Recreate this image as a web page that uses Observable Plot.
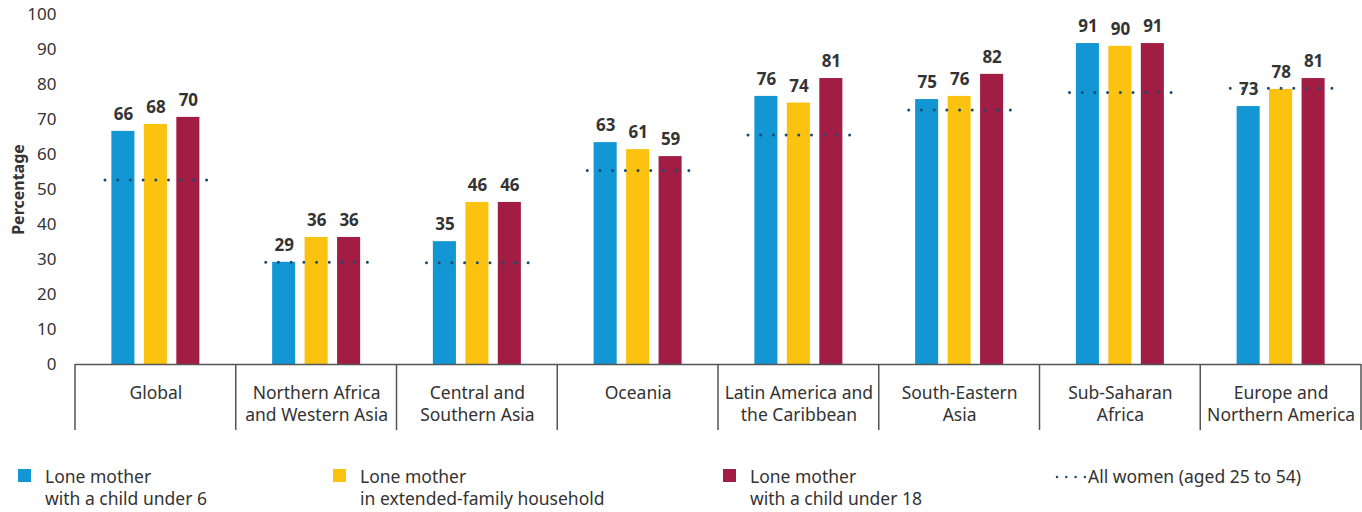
<!DOCTYPE html>
<html><head><meta charset="utf-8">
<script src="https://cdn.jsdelivr.net/npm/d3@7"></script>
<script src="https://cdn.jsdelivr.net/npm/@observablehq/plot@0.6"></script>
<style>
body{margin:0;background:#fff;font-family:"Noto Sans",sans-serif;}
#wrap{position:relative;width:1362px;height:512px;overflow:hidden;}
.leg{position:absolute;top:465px;font-size:17.5px;line-height:22px;color:#333;white-space:nowrap;}
.sw{position:absolute;width:13px;height:13px;top:4px;}
</style></head><body>
<div id="wrap"><div id="chart"></div><div id="legend"></div></div>
<script>
const regions = ["Global","Northern Africa\nand Western Asia","Central and\nSouthern Asia","Oceania","Latin America and\nthe Caribbean","South-Eastern\nAsia","Sub-Saharan\nAfrica","Europe and\nNorthern America"];
const seriesNames = ["Lone mother\nwith a child under 6","Lone mother\nin extended-family household","Lone mother\nwith a child under 18"];
const under6   = [66.6, 29.2, 35.1, 63.4, 76.6, 75.7, 91.7, 73.7];
const extended = [68.6, 36.3, 46.3, 61.4, 74.7, 76.6, 90.9, 78.6];
const under18  = [70.6, 36.3, 46.3, 59.4, 81.7, 82.9, 91.7, 81.7];
const allWomen = [52.7, 29.2, 29.1, 55.4, 65.6, 72.7, 77.7, 78.9];
const allWomenLabel = "All women (aged 25 to 54)";
const yTicks = [0,10,20,30,40,50,60,70,80,90,100];
const colors = ["#1396d4","#fbc30f","#a11d43"];
const dotColor = "#1c4a70";
const FONT = '"Noto Sans",sans-serif';

const bars = [];
regions.forEach((r,i)=>{
  [under6, extended, under18].forEach((arr,j)=>bars.push({region:r, series:seriesNames[j], value:arr[i]}));
});
const refs = regions.map((r,i)=>({region:r, value:allWomen[i]}));

const plot = Plot.plot({
  width:1362, height:440,
  marginLeft:75, marginRight:1, marginTop:14, marginBottom:76,
  style:{fontFamily:FONT, fontSize:"16px", color:"#333", background:"#fff"},
  fx:{domain:regions, padding:0, axis:null, round:false},
  x:{domain:seriesNames, paddingInner:0.29, paddingOuter:1.12, axis:null, round:false},
  y:{domain:[0,100], ticks:yTicks, label:"Percentage"},
  color:{domain:seriesNames, range:colors},
  marks:[
    Plot.axisY({ticks:yTicks, tickSize:0, tickPadding:19, fontSize:17, label:"Percentage", labelAnchor:"center", labelArrow:"none", labelOffset:63}),
    Plot.barY(bars,{fx:"region", x:"series", y:"value", fill:"series"}),
    Plot.text(bars,{fx:"region", x:"series", y:"value", text:d=>String(Math.floor(d.value)), dy:-17, lineAnchor:"middle", fontWeight:"bold", fontSize:17, fill:"#333", stroke:"white", strokeWidth:4, paintOrder:"stroke"}),
    Plot.ruleY(refs,{fx:"region", y:"value", insetLeft:30, insetRight:28.5, stroke:dotColor, strokeWidth:3, strokeDasharray:"0 12.7", strokeLinecap:"round"}),
    Plot.ruleY([0],{stroke:"#555", strokeWidth:1.5}),
    Plot.text(regions,{fx:d=>d, text:d=>d, frameAnchor:"bottom", dy:19, lineAnchor:"top", lineHeight:1.26, fontSize:17.5, fill:"#333"})
  ]
});
document.getElementById("chart").appendChild(plot);
const svg = d3.select(plot);
svg.selectAll("[aria-label='y-axis label']").attr("font-weight","bold").attr("font-size",16);
const fx = plot.scale("fx");
const y0 = 364, y1 = 430;
const edges = regions.map(r=>fx.apply(r)).concat([fx.apply(regions[regions.length-1])+fx.bandwidth]);
svg.append("g").selectAll("line").data(edges).join("line")
  .attr("x1",d=>Math.min(d,1361)).attr("x2",d=>Math.min(d,1361)).attr("y1",y0).attr("y2",y1)
  .attr("stroke","#555").attr("stroke-width",1.5);

const leg = document.getElementById("legend");
const lx = [18,333,723];
seriesNames.forEach((s,i)=>{
  const d = document.createElement("div");
  d.className="leg"; d.style.left=lx[i]+"px";
  d.innerHTML = `<span class="sw" style="background:${colors[i]};left:0"></span><div style="margin-left:27px">${s.split("\n").join("<br>")}</div>`;
  leg.appendChild(d);
});
const d4 = document.createElement("div");
d4.className="leg"; d4.style.left="1055px";
d4.innerHTML = `<svg width="33" height="22" style="vertical-align:top"><line x1="2" x2="30" y1="12" y2="12" stroke="${dotColor}" stroke-width="2.5" stroke-dasharray="0 9.3" stroke-linecap="round"/></svg>${allWomenLabel}`;
leg.appendChild(d4);
</script>
</body></html>
